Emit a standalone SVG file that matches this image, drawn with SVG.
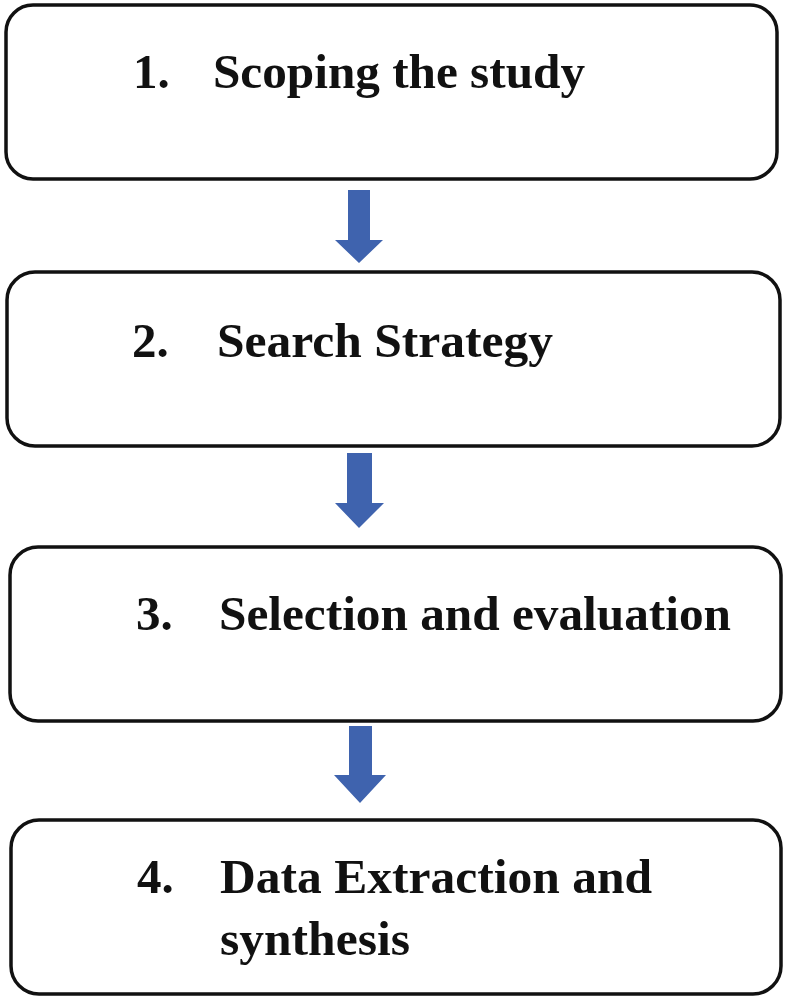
<svg xmlns="http://www.w3.org/2000/svg" width="787" height="1000" viewBox="0 0 787 1000">
<style>
.box{fill:#ffffff;stroke:#111111;stroke-width:3.5}
.t{font-family:"Liberation Serif","Times New Roman",serif;font-weight:bold;font-size:49px;fill:#111111}
.arr{fill:#3F63AE}
</style>
<rect width="787" height="1000" fill="#ffffff"/>
<g id="connectors">
<path class="arr" d="M348,190 L370,190 L370,240 L383,240 L359,263 L335,240 L348,240 Z"/>
<path class="arr" d="M347,453 L372,453 L372,503 L384,503 L359,528 L335,503 L347,503 Z"/>
<path class="arr" d="M349,726 L372,726 L372,775 L386,775 L360,803 L334,775 L349,775 Z"/>
</g>
<g id="node1">
<rect class="box" x="6" y="5" width="771" height="174" rx="27"/>
<text class="t" x="133" y="88">1.</text>
<text class="t" x="213" y="88" textLength="372" lengthAdjust="spacingAndGlyphs">Scoping the study</text>
</g>
<g id="node2">
<rect class="box" x="7" y="272" width="773" height="174" rx="28"/>
<text class="t" x="132" y="357">2.</text>
<text class="t" x="217" y="357" textLength="336" lengthAdjust="spacingAndGlyphs">Search Strategy</text>
</g>
<g id="node3">
<rect class="box" x="10" y="547" width="771" height="174" rx="28"/>
<text class="t" x="136" y="630">3.</text>
<text class="t" x="219" y="630" textLength="512" lengthAdjust="spacingAndGlyphs">Selection and evaluation</text>
</g>
<g id="node4">
<rect class="box" x="11" y="820" width="770" height="174" rx="28"/>
<text class="t" x="137" y="893">4.</text>
<text class="t" x="220" y="893" textLength="432" lengthAdjust="spacingAndGlyphs">Data Extraction and</text>
<text class="t" x="220" y="955" textLength="190" lengthAdjust="spacingAndGlyphs">synthesis</text>
</g>
</svg>
